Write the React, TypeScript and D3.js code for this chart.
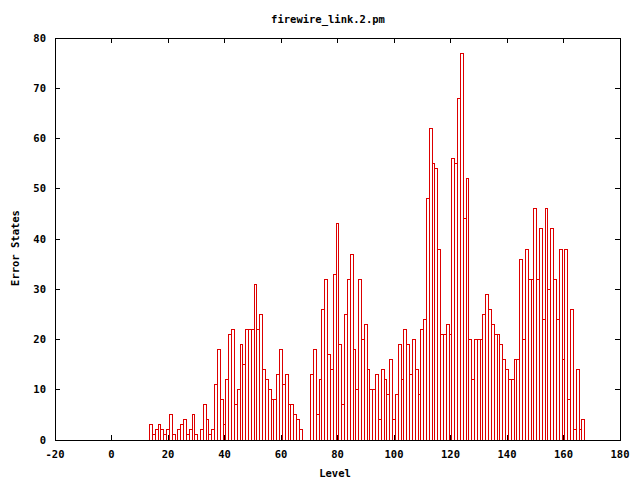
import React from 'react';
import * as d3 from 'd3';

const title = 'firewire_link.2.pm';
const xLabel = 'Level';
const yLabel = 'Error States';
const xTicks = [-20, 0, 20, 40, 60, 80, 100, 120, 140, 160, 180];
const yTicks = [0, 10, 20, 30, 40, 50, 60, 70, 80];
const firstLevel = 14;
const errorStates = [
  3, 1, 2, 3, 2, 1, 2, 5, 1, 0,
  2, 3, 4, 1, 2, 5, 1, 0, 2, 7,
  4, 1, 2, 11, 18, 8, 3, 12, 21, 22,
  7, 10, 19, 15, 22, 22, 22, 31, 22, 25,
  14, 12, 10, 8, 8, 13, 18, 11, 13, 7,
  7, 5, 4, 2, 0, 0, 0, 13, 18, 5,
  12, 26, 32, 17, 14, 33, 43, 19, 7, 25,
  32, 37, 18, 10, 32, 20, 23, 14, 10, 10,
  13, 4, 14, 12, 9, 16, 4, 9, 19, 12,
  22, 19, 13, 20, 14, 9, 22, 24, 48, 62,
  55, 54, 38, 21, 21, 23, 21, 56, 55, 68,
  77, 44, 52, 20, 12, 20, 20, 20, 25, 29,
  26, 23, 21, 21, 19, 16, 14, 12, 12, 16,
  16, 36, 20, 38, 32, 32, 46, 32, 42, 24,
  46, 30, 42, 32, 24, 38, 16, 38, 8, 26,
  2, 14, 2, 4,
];
const levels = errorStates.map((_, i) => firstLevel + i);

const FONT = '"DejaVu Sans Mono", monospace';
const RED = '#dd0000';

export default function App() {
  const W = 640, H = 480;
  const left = 55, right = 620, top = 38, bottom = 440;
  const x = d3.scaleLinear().domain([-20, 180]).range([left, right]);
  const y = d3.scaleLinear().domain([0, 80]).range([bottom, top]);
  const tl = 5;
  const bars = levels
    .map((L, i) => ({ L, v: errorStates[i] }))
    .filter((d) => d.v > 0);

  return (
    <svg
      width={W}
      height={H}
      style={{ position: 'absolute', left: 0, top: 0, background: '#fff' }}
      fontFamily={FONT}
      fontWeight="bold"
      fontSize={10.5}
    >
      <rect x={0} y={0} width={W} height={H} fill="#fff" />
      <g shapeRendering="crispEdges">
        {bars.map((d) => {
          const x0 = x(d.L - 0.5);
          const x1 = x(d.L + 0.5);
          const y0 = y(d.v);
          return (
            <rect
              key={d.L}
              x={x0}
              y={y0}
              width={x1 - x0}
              height={y(0) - y0}
              fill="none"
              stroke={RED}
              strokeWidth={1}
            />
          );
        })}
      </g>
      <g shapeRendering="crispEdges" stroke="#000" strokeWidth={1}>
        {xTicks.map((t) => (
          <g key={'xt' + t}>
            <line x1={x(t)} x2={x(t)} y1={bottom} y2={bottom - tl} />
            <line x1={x(t)} x2={x(t)} y1={top} y2={top + tl} />
          </g>
        ))}
        {yTicks.map((t) => (
          <g key={'yt' + t}>
            <line x1={left} x2={left + tl} y1={y(t)} y2={y(t)} />
            <line x1={right} x2={right - tl} y1={y(t)} y2={y(t)} />
          </g>
        ))}
        <rect x={left} y={top} width={right - left} height={bottom - top} fill="none" />
      </g>
      <g fill="#000">
        {xTicks.map((t) => (
          <text key={'xl' + t} x={x(t)} y={458} textAnchor="middle">
            {t}
          </text>
        ))}
        {yTicks.map((t) => (
          <text key={'yl' + t} x={46} y={y(t)} dy="0.35em" textAnchor="end">
            {t}
          </text>
        ))}
        <text x={328} y={23} textAnchor="middle">{title}</text>
        <text x={335} y={477} textAnchor="middle">{xLabel}</text>
        <text
          x={0}
          y={0}
          textAnchor="middle"
          transform={`translate(19,248) rotate(-90)`}
        >
          {yLabel}
        </text>
      </g>
    </svg>
  );
}
